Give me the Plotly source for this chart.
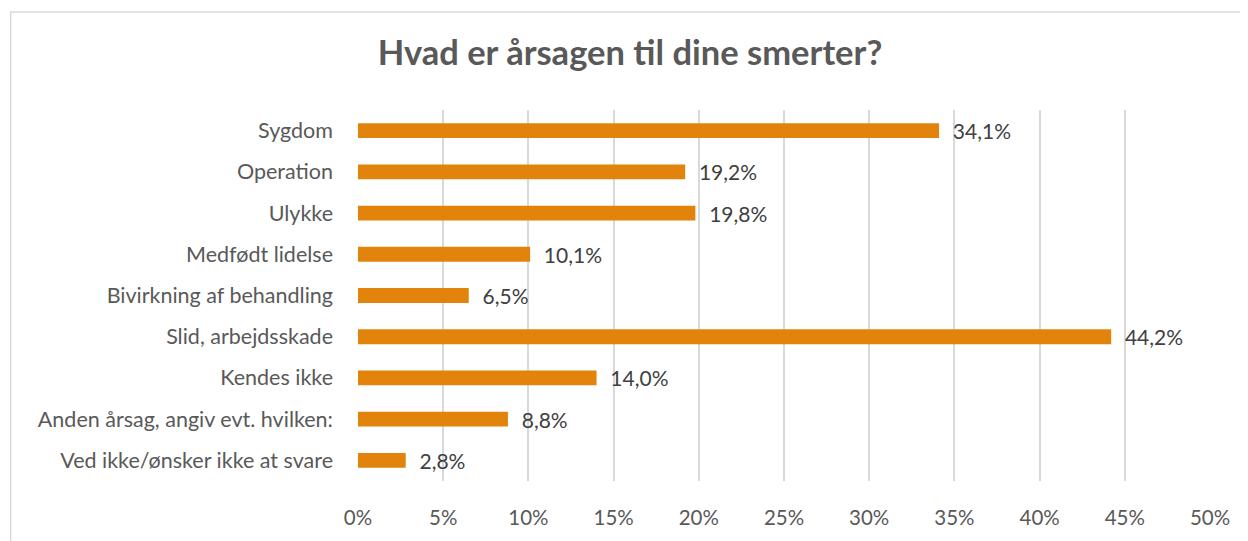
import plotly.graph_objects as go

categories = ["Sygdom", "Operation", "Ulykke", "Medfødt lidelse", "Bivirkning af behandling",
              "Slid, arbejdsskade", "Kendes ikke", "Anden årsag, angiv evt. hvilken:",
              "Ved ikke/ønsker ikke at svare"]
values = [34.1, 19.2, 19.8, 10.1, 6.5, 44.2, 14.0, 8.8, 2.8]
tick_vals = [0, 5, 10, 15, 20, 25, 30, 35, 40, 45, 50]
tick_text = [f"{v}%" for v in tick_vals]
labels = ["\u00a0\u00a0" + f"{v:.1f}%".replace(".", ",") for v in values]

FONT = "Lato"
GRAY = "#595959"

# page body has an 8px margin; figure occupies x 8..1248, y 8..541
OFF = 8
W, H = 1248 - OFF, 541 - OFF
PL, PR, PT, PB = 357.5, 1210, 110, 485   # target plot area in window pixels

fig = go.Figure(go.Bar(
    y=categories, x=values, orientation="h",
    marker=dict(color="#E2840B", line=dict(width=0)),
    text=labels, textposition="outside", cliponaxis=False,
    constraintext="none",
    textfont=dict(family=FONT, size=21, color="#404040"),
    width=0.36,
))

pw, ph = PR - PL, PB - PT
fig.update_layout(
    width=W, height=H,
    margin=dict(l=PL - OFF, r=1248 - PR, t=PT - OFF, b=541 - PB, pad=0),
    paper_bgcolor="white", plot_bgcolor="white",
    showlegend=False,
    title=dict(text="<b>Hvad er årsagen til dine smerter?</b>",
               x=(630 - OFF) / W, xanchor="center",
               y=1 - (53 - OFF) / H, yanchor="middle",
               font=dict(family=FONT, size=34.5, color=GRAY)),
    xaxis=dict(range=[0, 50], tickvals=tick_vals, ticktext=tick_text,
               showgrid=True, gridcolor="#D9D9D9", gridwidth=1.5, zeroline=False,
               showline=False, ticks="", ticklabelstandoff=22,
               tickfont=dict(family=FONT, size=20.5, color=GRAY)),
    yaxis=dict(autorange="reversed", showgrid=False, showline=False, ticks="",
               ticklabelstandoff=24,
               tickfont=dict(family=FONT, size=21.5, color=GRAY)),
    shapes=[dict(type="rect", xref="paper", yref="paper",
                 x0=(10 - PL) / pw, x1=(1320 - PL) / pw,
                 y0=(PB - 620) / ph, y1=(PB - 11) / ph,
                 line=dict(color="#D9D9D9", width=1.5), layer="below")],
)

fig.write_html("out.html")
